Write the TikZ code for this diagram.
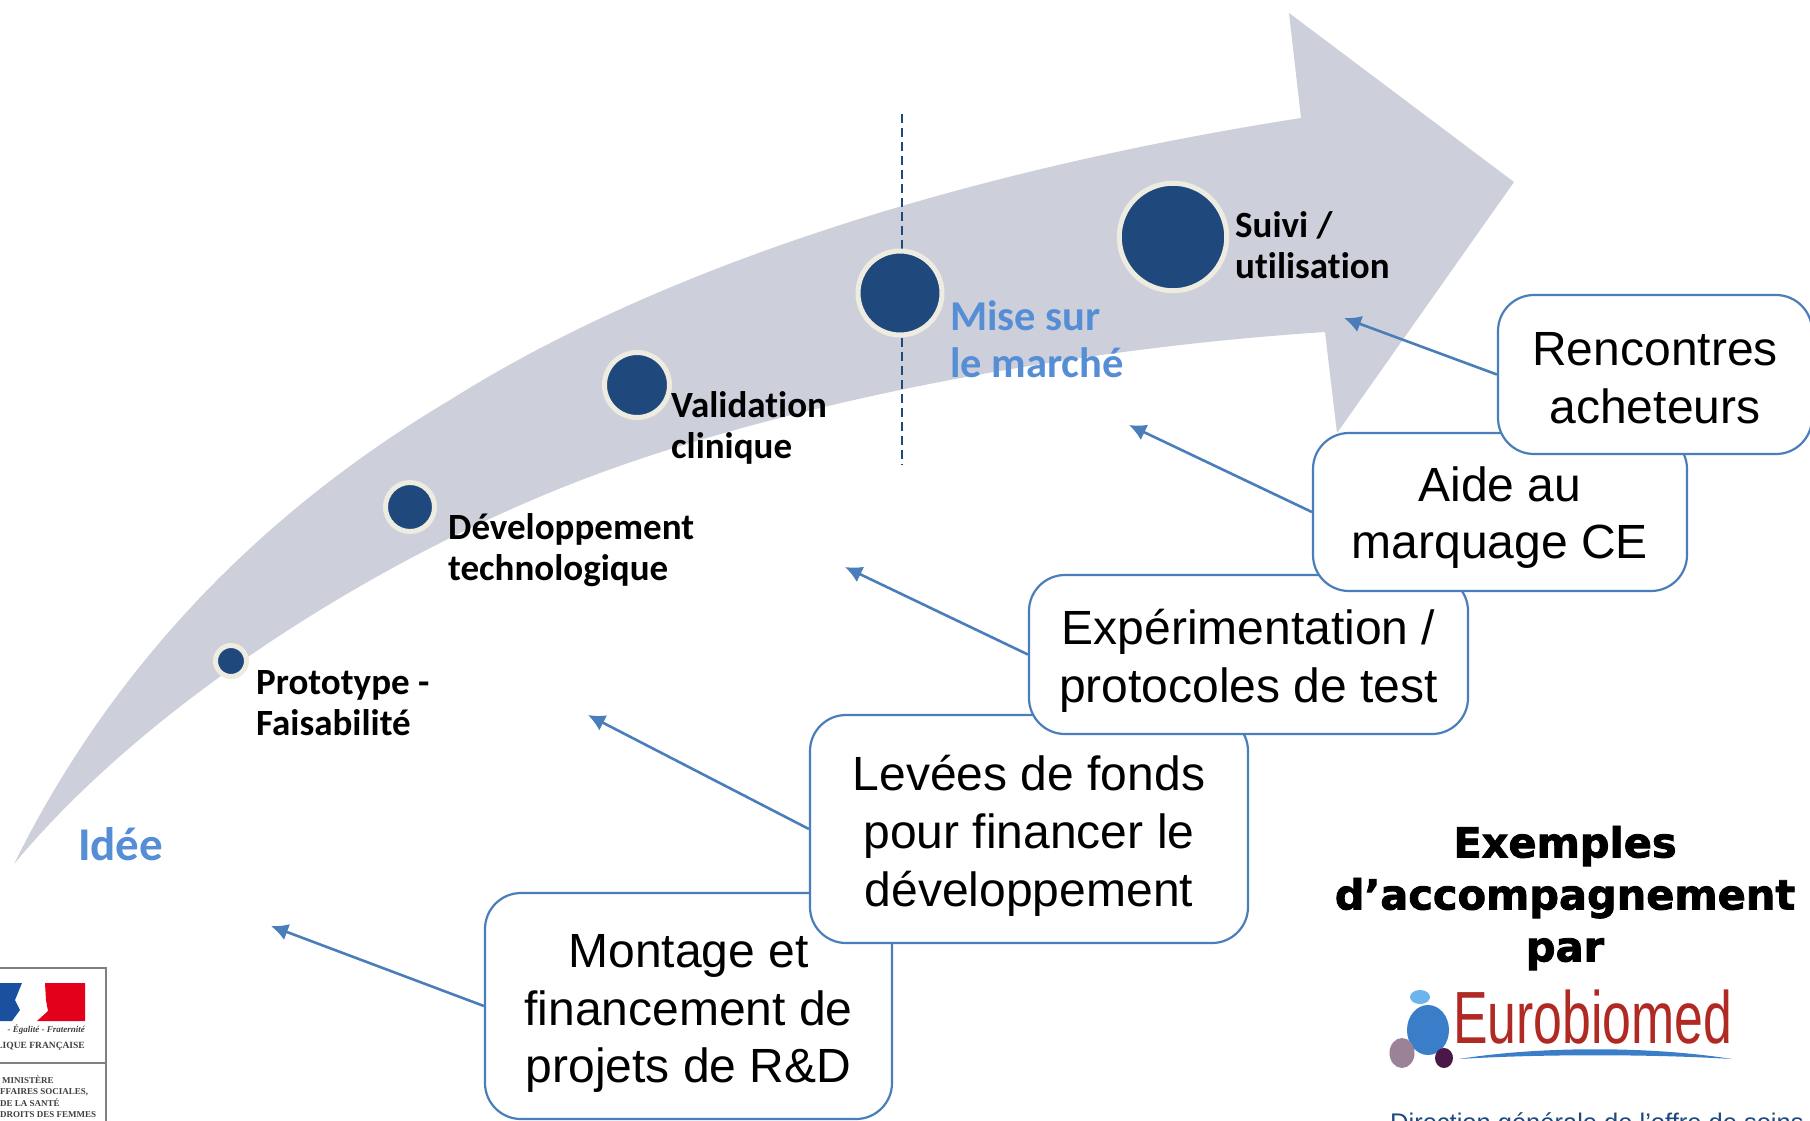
\documentclass[tikz,border=0pt]{standalone}
\usepackage{fontspec}
\usepackage{tikz}
\usetikzlibrary{arrows.meta}
\setmainfont{Liberation Sans}
\newfontfamily\labelfont[RawFeature={-liga;-clig}]{Carlito}
\newfontfamily\heavyfont[BoldFeatures={FakeBold=2}]{DejaVu Sans}
\newfontfamily\stamefont{Liberation Serif}
\newcommand{\boxlift}[1]{\rule{0pt}{#1pt}}
\definecolor{arrowgray}{RGB}{205, 208, 218}
\definecolor{stagenavy}{RGB}{31, 73, 125}
\definecolor{stagering}{RGB}{238, 236, 225}
\definecolor{keyblue}{RGB}{85, 142, 213}
\definecolor{linkblue}{RGB}{74, 126, 187}
\definecolor{eurored}{RGB}{176, 42, 35}
\definecolor{euroblue}{RGB}{58, 125, 200}
\definecolor{eurosky}{RGB}{108, 180, 238}
\definecolor{euromauve}{RGB}{155, 130, 150}
\definecolor{europlum}{RGB}{74, 24, 70}
\definecolor{rfblue}{RGB}{27, 79, 160}
\definecolor{rfred}{RGB}{226, 0, 26}
\tikzset{
  stagedot/.style={circle, draw=stagering, fill=stagenavy, line width=5pt, inner sep=0pt},
  stagetext/.style={anchor=west, align=left, inner sep=0pt, font=\labelfont\bfseries\fontsize{37}{41.5}\selectfont},
  keytext/.style={anchor=west, align=left, inner sep=0pt, text=keyblue, font=\labelfont\bfseries\fontsize{42.5}{47}\selectfont},
  helpbox/.style={draw=linkblue, fill=white, line width=2.2pt, rounded corners=36pt, inner sep=0pt, align=center, font=\fontsize{48}{57.7}\selectfont},
  helplink/.style={draw=linkblue, line width=2.6pt, -{Latex[length=17pt,width=17pt]}},
  rfsmall/.style={anchor=west, inner sep=0pt, text=black!75, font=\stamefont\bfseries\fontsize{9}{9}\selectfont}
}
\begin{document}
\begin{tikzpicture}[x=1pt, y=-1pt]
            \path[use as bounding box, clip] (0,0) rectangle (1810,1120);
            \fill[white] (0,0) rectangle (1810,1120);
            % Big arrow
            \fill[arrowgray] (14,864) .. controls (125,640) and (290,495) .. (450,400)
                .. controls (680,255) and (1000,165) .. (1301,118)
                -- (1289,13) -- (1514,182) -- (1337,433) -- (1325,332)
                .. controls (1050,350) and (780,407) .. (600,473)
                .. controls (390,550) and (150,700) .. (14,864) -- cycle;
            % Market line
            \coordinate (linetop) at (902,114);
            \coordinate (linebottom) at (902,465);
            \draw[color=stagenavy, line width=2pt, dash pattern=on 9pt off 5pt] (linetop) -- (linebottom);
            % Stages
            \node[stagedot, minimum size=31pt]    (dotproto) at (231,661) {};
            \node[stagedot, minimum size=49pt]    (dotdev)   at (410,507) {};
            \node[stagedot, minimum size=65pt]    (dotvalid) at (637,385) {};
            \node[stagedot, minimum size=84pt]    (dotmarket) at (900,293) {};
            \node[stagedot, minimum size=107.5pt] (dotfollow) at (1173,237) {};
            \node[keytext] (idea) at (78,844) {\fontsize{47}{47}\selectfont Idée};
            \node[stagetext] (proto)  at (256,703) {Prototype -\\Faisabilité};
            \node[stagetext] (dev)    at (448,550) {Développement\\technologique};
            \node[stagetext] (valid)  at (671,428) {Validation\\clinique};
            \node[keytext]   (market) at (950,339) {Mise sur\\le marché};
            \node[stagetext] (follow) at (1235,245) {Suivi /\\utilisation};
            % Boxes, lowest first
            \node[helpbox, minimum width=407pt, minimum height=226pt] (mounting) at (688.5,1006) {\boxlift{48.5}Montage et\\financement de\\projets de R\&D};
            \node[helpbox, minimum width=438pt, minimum height=228pt] (funding)  at (1029,829) {\boxlift{48.6}Levées de fonds\\pour financer le\\développement};
            \node[helpbox, minimum width=439pt, minimum height=159pt] (testing)  at (1248.5,654.5) {\boxlift{48.5}Expérimentation /\\protocoles de test};
            \node[helpbox, minimum width=374pt, minimum height=158pt] (marking)  at (1500,512) {\boxlift{46}Aide au\\marquage CE};
            \node[helpbox, minimum width=314pt, minimum height=159pt] (buyers)   at (1655,374.5) {\boxlift{40}Rencontres\\acheteurs};
            % Links
            \coordinate (tipbuyers)   at (1344,318);
            \coordinate (tipmarking)  at (1129,425);
            \coordinate (tiptesting)  at (845,567);
            \coordinate (tipfunding)  at (588,715);
            \coordinate (tipmounting) at (271,926);
            \draw[helplink] (buyers.west)   -- (tipbuyers);
            \draw[helplink] (marking.west)  -- (tipmarking);
            \draw[helplink] (testing.west)  -- (tiptesting);
            \draw[helplink] (funding.west)  -- (tipfunding);
            \draw[helplink] (mounting.west) -- (tipmounting);
            % Heading
            \node[inner sep=0pt, align=center, font=\heavyfont\bfseries\fontsize{41.5}{52}\selectfont] (heading) at (1565,898) {Exemples\\d’accompagnement\\par};
            % Eurobiomed logo
            \fill[color=euroblue] (1459,1059) .. controls (1540,1046) and (1650,1046) .. (1732,1059) .. controls (1650,1054) and (1540,1054) .. (1459,1059) -- cycle;
            \fill[color=eurosky] (1420,997) ellipse (10 and 7);
            \fill[color=euroblue] (1428,1030) ellipse (21 and 25);
            \fill[color=euromauve] (1402,1053) ellipse (12.5 and 15);
            \fill[color=europlum] (1444,1058) ellipse (9 and 10);
            \node[anchor=base west, inner sep=0pt, xscale=0.7, text=eurored, font=\fontsize{74}{74}\selectfont] (eurobiomed) at (1453,1043) {Eurobiomed};
            \node[anchor=base west, inner sep=0pt, text=stagenavy, font=\fontsize{25.5}{25.5}\selectfont] (direction) at (1390,1131) {Direction générale de l'offre de soins};
            % State stamp
            \draw[color=gray, line width=1.5pt] (-5,968) -- (106,968) -- (106,1125);
            \draw[color=gray, line width=1.5pt] (-5,1063) -- (106,1063);
            \fill[color=rfblue] (-5,983) -- (22,983) -- (15,1000) -- (20,1010) -- (12,1021) -- (-5,1021) -- cycle;
            \fill[color=rfred] (45,983) -- (85,983) -- (85,1021) -- (37,1021) -- (48,1011) -- (46,1000) -- cycle;
            \node[anchor=east, inner sep=0pt, text=black!75, font=\stamefont\itshape\bfseries\fontsize{9}{9}\selectfont] (motto) at (85,1030) {- Égalité - Fraternité};
            \node[anchor=east, inner sep=0pt, text=black!75, font=\stamefont\bfseries\fontsize{9.5}{9.5}\selectfont] (republic) at (85,1046) {LIQUE FRANÇAISE};
            \node[rfsmall] (ministry1) at (2,1080) {MINISTÈRE};
            \node[rfsmall] (ministry2) at (0,1092) {FFAIRES SOCIALES,};
            \node[rfsmall] (ministry3) at (0,1103) {DE LA SANTÉ};
            \node[rfsmall] (ministry4) at (0,1115) {DROITS DES FEMMES};
        \end{tikzpicture}
\end{document}
